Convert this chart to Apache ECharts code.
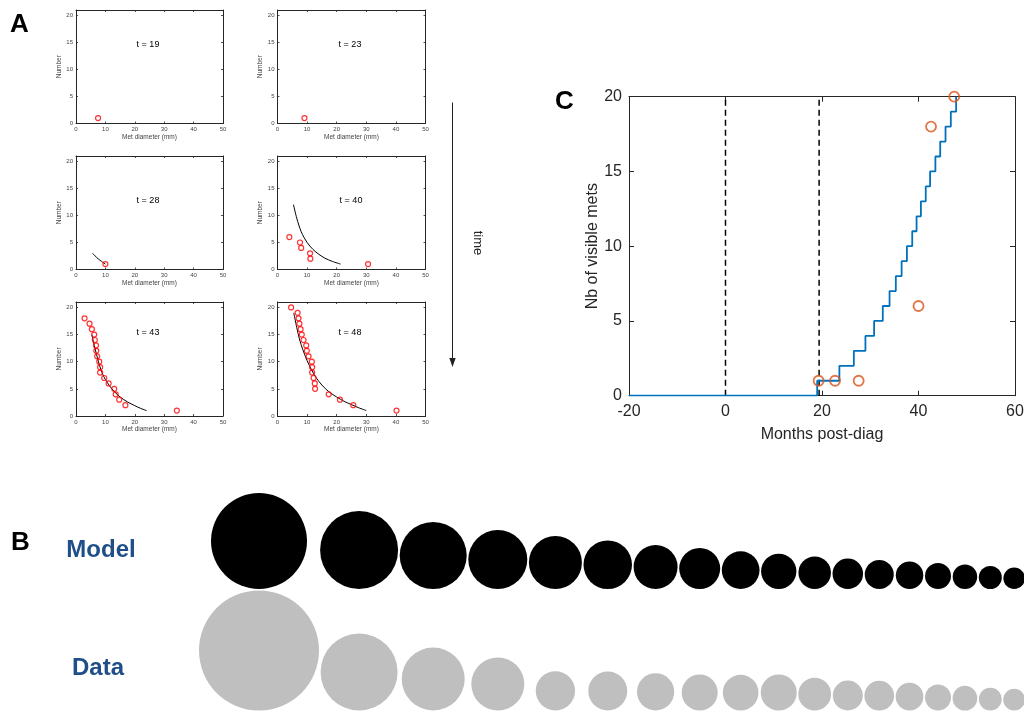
<!DOCTYPE html>
<html><head><meta charset="utf-8">
<script src="https://cdn.jsdelivr.net/npm/echarts@6/dist/echarts.min.js"></script>
<style>html,body{margin:0;padding:0;background:#fff}#c{width:1024px;height:711px}</style>
</head><body><div id="c"></div>
<script>
// ---------- Panel A data (Met diameter (mm), Number) ----------
const aTitles = ['t = 19', 't = 23', 't = 28', 't = 40', 't = 43', 't = 48'];
const metsT19 = [[7.5, 1]];
const metsT23 = [[9.1, 1]];
const metsT28 = [[10, 1]];
const metsT40 = [[4, 6], [7.6, 5], [8, 4], [11, 3], [11.1, 2], [30.6, 1]];
const metsT43 = [[2.9, 18], [4.6, 17], [5.4, 16], [6.2, 15], [6.4, 14], [6.8, 13], [6.9, 12], [7.2, 11], [7.9, 10], [8.2, 9], [8.2, 8], [9.6, 7], [11.1, 6], [13, 5], [13.5, 4], [14.7, 3], [16.8, 2], [34.3, 1]];
const metsT48 = [[4.6, 20], [6.8, 19], [7.1, 18], [7.4, 17], [7.8, 16], [8.2, 15], [8.8, 14], [9.7, 13], [9.9, 12], [10.5, 11], [11.6, 10], [11.7, 9], [11.7, 8], [12.2, 7], [12.6, 6], [12.7, 5], [17.3, 4], [21.1, 3], [25.6, 2], [40.2, 1]];
const fitT19 = [];
const fitT23 = [];
const fitT28 = [[5.6, 3], [6.5, 2.5], [7.5, 2], [8.7, 1.5], [10, 1]];
const fitT40 = [[5.4, 12], [6.5, 9.5], [8, 7], [10, 5], [12, 3.7], [14, 2.8], [16, 2.1], [18.5, 1.5], [21.3, 1]];
const fitT43 = [[5.4, 15], [6.2, 13], [7, 11.3], [8, 9.3], [9, 7.8], [10, 6.7], [11.5, 5.5], [13, 4.5], [15, 3.5], [17.5, 2.6], [20, 1.9], [22, 1.4], [24, 1]];
const fitT48 = [[5.5, 19], [6.5, 16.3], [7.5, 14], [8.5, 12.3], [10, 10.2], [11.5, 8.5], [13, 7.1], [15, 5.7], [17.5, 4.4], [20, 3.5], [22.5, 2.7], [25, 2.1], [27.5, 1.5], [30, 1]];
const aMets = [metsT19, metsT23, metsT28, metsT40, metsT43, metsT48];
const aFits = [fitT19, fitT23, fitT28, fitT40, fitT43, fitT48];

// ---------- Panel C data ----------
const stepMonths = [-20, 19.0, 23.6, 26.6, 29.0, 30.8, 32.6, 34.0, 35.3, 36.5, 37.6, 38.7, 39.6, 40.5, 41.5, 42.4, 43.5, 44.5, 45.6, 46.7, 47.8];
const stepVisible = [0, 1, 2, 3, 4, 5, 6, 7, 8, 9, 10, 11, 12, 13, 14, 15, 16, 17, 18, 19, 20];
const obsMonths = [19.3, 22.7, 27.6, 40, 42.6, 47.4];
const obsVisible = [1, 1, 1, 6, 18, 20];
const dashMonths = [0, 19.4];

// ---------- Panel B data (circle diameters) ----------
const modelDiam = [96, 78, 67, 59, 53, 48.5, 44, 41, 37.7, 35.3, 32.5, 30.5, 29, 27.5, 26, 24.5, 23, 21.5];
const dataDiam = [120, 77, 63, 53, 39.3, 39, 37.3, 36, 35.7, 36, 32.7, 30, 29.7, 27.7, 26, 24.7, 22.7, 21.7];

// ---------- layout / style ----------
const FONT = "'Liberation Sans', Arial, Helvetica, sans-serif";
const AX = '#262626';
const aGridBoxes = [
  {left: 76, top: 10, width: 147, height: 113.5},
  {left: 277.5, top: 10, width: 148, height: 113.5},
  {left: 76, top: 156, width: 147, height: 113.5},
  {left: 277.5, top: 156, width: 148, height: 113.5},
  {left: 76, top: 302, width: 147, height: 114},
  {left: 277.5, top: 302, width: 148, height: 114}
];
const aTitlePos = [[148, 45], [350, 45], [148, 201], [351, 201], [148, 333], [350, 333]];

const grids = [], xAxes = [], yAxes = [], series = [];
aGridBoxes.forEach(function (b, i) {
  grids.push(Object.assign({outerBoundsMode: 'none', containLabel: false}, b));
  ['bottom', 'top'].forEach(function (pos) {
    xAxes.push({
      gridIndex: i, type: 'value', position: pos, min: 0, max: 50, interval: 10,
      axisLine: {show: true, onZero: false, lineStyle: {color: AX, width: 1}},
      axisTick: {show: true, inside: true, length: 2, lineStyle: {color: AX, width: 0.8}},
      axisLabel: {show: pos === 'bottom', fontSize: 6, color: '#444', margin: 3, fontFamily: FONT},
      splitLine: {show: false},
      name: pos === 'bottom' ? 'Met diameter (mm)' : '',
      nameLocation: 'middle', nameGap: 10,
      nameTextStyle: {fontSize: 6.5, color: '#444', fontFamily: FONT}
    });
  });
  ['left', 'right'].forEach(function (pos) {
    yAxes.push({
      gridIndex: i, type: 'value', position: pos, min: 0, max: 21, interval: 5,
      axisLine: {show: true, onZero: false, lineStyle: {color: AX, width: 1}},
      axisTick: {show: true, inside: true, length: 2, lineStyle: {color: AX, width: 0.8}},
      axisLabel: {show: pos === 'left', showMaxLabel: false, fontSize: 6, color: '#444', margin: 3, fontFamily: FONT},
      splitLine: {show: false},
      name: pos === 'left' ? 'Number' : '',
      nameLocation: 'middle', nameGap: 11,
      nameTextStyle: {fontSize: 6.5, color: '#444', fontFamily: FONT}
    });
  });
  series.push({
    type: 'line', xAxisIndex: 2 * i, yAxisIndex: 2 * i, data: aFits[i],
    showSymbol: false, symbol: 'none', smooth: 0.3,
    lineStyle: {color: '#000', width: 1}, silent: true, z: 2
  });
  series.push({
    type: 'scatter', xAxisIndex: 2 * i, yAxisIndex: 2 * i, data: aMets[i],
    symbol: 'circle', symbolSize: 5,
    itemStyle: {color: 'rgba(0,0,0,0)', borderColor: '#ff0000', borderWidth: 1.2},
    silent: true, z: 3
  });
});

// Panel C grid (index 6)
grids.push({left: 629, top: 96.7, width: 386, height: 299, outerBoundsMode: 'none', containLabel: false});
['bottom', 'top'].forEach(function (pos) {
  xAxes.push({
    gridIndex: 6, type: 'value', position: pos, min: -20, max: 60, interval: 20,
    axisLine: {show: true, onZero: false, lineStyle: {color: AX, width: 1}},
    axisTick: {show: true, inside: true, length: 5, lineStyle: {color: AX, width: 1}},
    axisLabel: {show: pos === 'bottom', fontSize: 16, color: AX, margin: 8, fontFamily: FONT},
    splitLine: {show: false},
    name: pos === 'bottom' ? 'Months post-diag' : '',
    nameLocation: 'middle', nameGap: 31,
    nameTextStyle: {fontSize: 16, color: AX, fontFamily: FONT}
  });
});
['left', 'right'].forEach(function (pos) {
  yAxes.push({
    gridIndex: 6, type: 'value', position: pos, min: 0, max: 20, interval: 5,
    axisLine: {show: true, onZero: false, lineStyle: {color: AX, width: 1}},
    axisTick: {show: true, inside: true, length: 5, lineStyle: {color: AX, width: 1}},
    axisLabel: {show: pos === 'left', fontSize: 16, color: AX, margin: 7, fontFamily: FONT},
    splitLine: {show: false},
    name: pos === 'left' ? 'Nb of visible mets' : '',
    nameLocation: 'middle', nameGap: 27,
    nameTextStyle: {fontSize: 16, color: AX, fontFamily: FONT}
  });
});
dashMonths.forEach(function (m) {
  series.push({
    type: 'line', xAxisIndex: 12, yAxisIndex: 12, data: [[m, 0], [m, 20]],
    symbol: 'none', lineStyle: {color: '#000', width: 1.5, type: [6, 4]}, silent: true, z: 2
  });
});
series.push({
  type: 'line', xAxisIndex: 12, yAxisIndex: 12, step: 'end',
  data: stepMonths.map(function (m, i) { return [m, stepVisible[i]]; }),
  symbol: 'none', lineStyle: {color: '#0072BD', width: 1.8}, silent: true, z: 3
});
series.push({
  type: 'scatter', xAxisIndex: 12, yAxisIndex: 12,
  data: obsMonths.map(function (m, i) { return [m, obsVisible[i]]; }),
  symbol: 'circle', symbolSize: 10,
  itemStyle: {color: 'rgba(0,0,0,0)', borderColor: '#D95319', borderWidth: 1.8},
  silent: true, z: 4
});

// Panel B grid (index 7): pixel-unit axes across the canvas
grids.push({left: 0, top: 0, width: 1024, height: 711, outerBoundsMode: 'none', containLabel: false});
xAxes.push({gridIndex: 7, type: 'value', min: 0, max: 1024, show: false});
yAxes.push({gridIndex: 7, type: 'value', min: 0, max: 711, inverse: true, show: false});
const firstCenter = 259, packGap = 1.6, modelBase = 589, dataBase = 710.5;
const centers = [];
modelDiam.forEach(function (d, i) {
  if (i === 0) { centers.push(firstCenter); return; }
  const step = Math.max((modelDiam[i - 1] + d) / 2, (dataDiam[i - 1] + dataDiam[i]) / 2) + packGap;
  centers.push(centers[i - 1] + step);
});
series.push({
  type: 'scatter', xAxisIndex: 14, yAxisIndex: 14, clip: false,
  data: modelDiam.map(function (d, i) { return [centers[i], modelBase - d / 2, d]; }),
  symbol: 'circle', symbolSize: function (v) { return v[2]; },
  itemStyle: {color: '#000', opacity: 1}, silent: true
});
series.push({
  type: 'scatter', xAxisIndex: 14, yAxisIndex: 14, clip: false,
  data: dataDiam.map(function (d, i) { return [centers[i], dataBase - d / 2, d]; }),
  symbol: 'circle', symbolSize: function (v) { return v[2]; },
  itemStyle: {color: '#bfbfbf', opacity: 1}, silent: true
});

function txt(t, x, y, size, weight, color, align, rot) {
  return {
    type: 'text', x: x, y: y, rotation: rot || 0, silent: true,
    style: {
      text: t, fontSize: size, fontWeight: weight, fontFamily: FONT, fill: color,
      align: align || 'left', verticalAlign: 'middle',
      textAlign: align || 'left', textVerticalAlign: 'middle'
    }
  };
}
const graphics = [
  txt('A', 10, 25, 26, 'bold', '#000'),
  txt('B', 11, 543, 26, 'bold', '#000'),
  txt('C', 555, 102, 26, 'bold', '#000'),
  txt('Model', 101, 550, 24, 'bold', '#1f4e88', 'center'),
  txt('Data', 98, 668, 24, 'bold', '#1f4e88', 'center'),
  txt('time', 478, 243, 13, 'normal', '#222', 'center', -Math.PI / 2),
  {type: 'line', silent: true, shape: {x1: 452.5, y1: 102.5, x2: 452.5, y2: 360}, style: {stroke: '#222', lineWidth: 1}},
  {type: 'polygon', silent: true, shape: {points: [[449.3, 358], [455.7, 358], [452.5, 367]]}, style: {fill: '#222'}}
];
aTitles.forEach(function (t, i) {
  graphics.push(txt(t, aTitlePos[i][0], aTitlePos[i][1], 9, 'normal', '#000', 'center'));
});

const chart = echarts.init(document.getElementById('c'), null, {renderer: 'canvas'});
chart.setOption({
  animation: false,
  backgroundColor: '#fff',
  grid: grids, xAxis: xAxes, yAxis: yAxes, series: series,
  graphic: {elements: graphics}
});
</script></body></html>
